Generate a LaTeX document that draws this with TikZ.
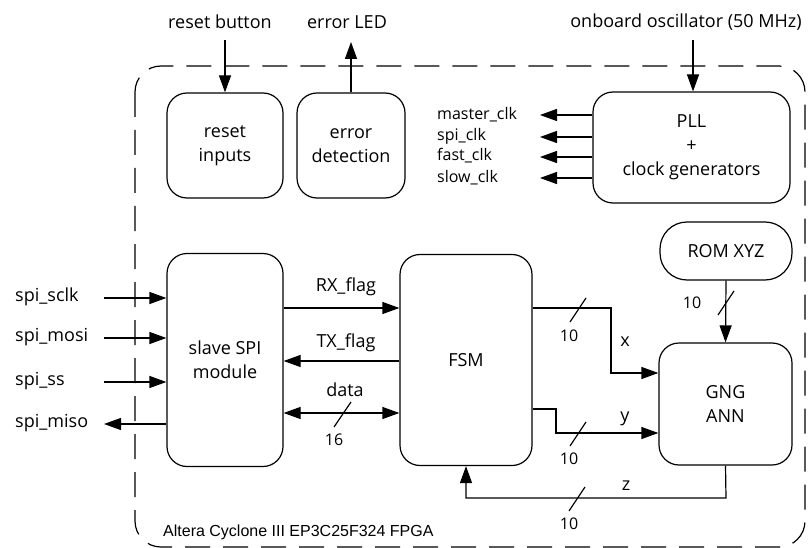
\documentclass[tikz,border=0pt]{standalone}
\usepackage{fontspec}
\setmainfont{Open Sans}
\newfontfamily\captionfont{Liberation Sans}
\usetikzlibrary{arrows.meta}

\tikzset{
  wire/.style={line width=1.2pt, draw=black},
  sigarrow/.style={wire, -{Triangle[length=17pt,width=12pt]}},
  bothways/.style={wire, {Triangle[length=17pt,width=12pt]}-{Triangle[length=17pt,width=12pt]}},
  block/.style={draw, line width=1.2pt, rounded corners=20pt, align=center,
    inner sep=0pt, font=\fontsize{18}{24}\selectfont},
  lbl/.style={inner sep=0pt, font=\fontsize{18}{22}\selectfont},
  smalllbl/.style={inner sep=0pt, font=\fontsize{16}{20}\selectfont},
  buswidth/.style={inner sep=0pt, font=\fontsize{16}{20}\selectfont},
  frame/.style={line width=1.2pt, dash pattern=on 25pt off 13pt, rounded corners=26pt},
}

\begin{document}
\begin{tikzpicture}[x=1pt, y=-1pt]
\useasboundingbox (0,0) rectangle (808,548);

% FPGA boundary
\draw[frame] (135,66) rectangle (805,547);
\node[anchor=west, inner sep=0pt, font=\captionfont\fontsize{16}{20}\selectfont]
  (chip) at (163,532) {Altera Cyclone III EP3C25F324 FPGA};

% blocks
\node[block, minimum width=116pt, minimum height=105pt] (rst) at (225,145.5) {reset\\inputs};
\node[block, minimum width=108pt, minimum height=105pt] (err) at (351,145.5) {error\\detection};
\node[block, minimum width=197pt, minimum height=111pt] (pll) at (691.5,147.5) {PLL\\+\\clock generators};
\node[block, minimum width=116pt, minimum height=213pt] (spi) at (225,360) {slave SPI\\module};
\node[block, minimum width=132pt, minimum height=211pt] (fsm) at (466,360) {FSM};
\node[block, minimum width=133pt, minimum height=122pt] (gng) at (725.5,404) {GNG\\ANN};
\node[block, rounded corners=27pt, minimum width=132pt, minimum height=58pt] (rom) at (726,251) {ROM XYZ};

% external signals at the top
\node[lbl] (btn) at (220,22) {reset button};
\node[lbl] (led) at (347,22) {error LED};
\node[lbl] (osc) at (686,22) {onboard oscillator (50 MHz)};
\coordinate (btnend) at (225,40);
\coordinate (ledend) at (351,42);
\coordinate (oscend) at (693,40);
\draw[sigarrow] (btnend) -- (rst.north);
\draw[sigarrow] (err.north) -- (ledend);
\draw[sigarrow] (oscend) -- (pll.north -| oscend);

% generated clocks
\node[smalllbl, anchor=west] (mclk) at (437,115) {master\_clk};
\node[smalllbl, anchor=west] (sclk) at (437,136) {spi\_clk};
\node[smalllbl, anchor=west] (fclk) at (437,156) {fast\_clk};
\node[smalllbl, anchor=west] (wclk) at (437,178) {slow\_clk};
\coordinate (mclkend) at (540,115);
\coordinate (sclkend) at (540,137);
\coordinate (fclkend) at (540,157);
\coordinate (wclkend) at (540,178);
\draw[sigarrow] (pll.west |- mclkend) -- (mclkend);
\draw[sigarrow] (pll.west |- sclkend) -- (sclkend);
\draw[sigarrow] (pll.west |- fclkend) -- (fclkend);
\draw[sigarrow] (pll.west |- wclkend) -- (wclkend);

% SPI pins
\node[lbl, anchor=west] (psclk) at (15,297) {spi\_sclk};
\node[lbl, anchor=west] (pmosi) at (15,337) {spi\_mosi};
\node[lbl, anchor=west] (pss)   at (15,381) {spi\_ss};
\node[lbl, anchor=west] (pmiso) at (15,423) {spi\_miso};
\coordinate (insclk) at (104,298);
\coordinate (inmosi) at (104,338);
\coordinate (inss)   at (104,382);
\coordinate (outmiso) at (104,424);
\draw[sigarrow] (insclk) -- (spi.west |- insclk);
\draw[sigarrow] (inmosi) -- (spi.west |- inmosi);
\draw[sigarrow] (inss) -- (spi.west |- inss);
\draw[sigarrow] (spi.west |- outmiso) -- (outmiso);

% SPI <-> FSM
\coordinate (rxy) at (0,308);
\coordinate (txy) at (0,361);
\coordinate (datay) at (0,413);
\draw[sigarrow] (spi.east |- rxy) -- (fsm.west |- rxy);
\draw[sigarrow] (fsm.west |- txy) -- (spi.east |- txy);
\draw[bothways] (spi.east |- datay) -- (fsm.west |- datay);
\node[lbl] (rxl) at (346,287) {RX\_flag};
\node[lbl] (txl) at (346,343) {TX\_flag};
\node[lbl] (datal) at (345,390) {data};
\draw[wire] (334,427) -- (351,402);
\node[buswidth] (w16) at (334,440) {16};

% FSM -> GNG (x and y), GNG -> FSM (z)
\draw[sigarrow] (fsm.east |- 0,308) -- (611,308) -- (611,373) -- (gng.west |- 0,373);
\draw[sigarrow] (fsm.east |- 0,409) -- (556,409) -- (556,433) -- (gng.west |- 0,433);
\draw[sigarrow] (gng.south) -- (726,498) -- (466,498) -- (fsm.south);
\draw[sigarrow] (rom.south) -- (gng.north);

\draw[wire] (570,322) -- (586,298);
\draw[wire] (570,446) -- (586,422);
\draw[wire] (569,511) -- (585,487);
\draw[wire] (718,315) -- (734,291);

\node[lbl] (xl) at (625,342) {x};
\node[lbl] (yl) at (625,419) {y};
\node[lbl] (zl) at (626,486) {z};
\node[buswidth] (wx) at (569,336) {10};
\node[buswidth] (wy) at (569,459) {10};
\node[buswidth] (wz) at (569,524) {10};
\node[buswidth] (wrom) at (692,303) {10};
\end{tikzpicture}
\end{document}
